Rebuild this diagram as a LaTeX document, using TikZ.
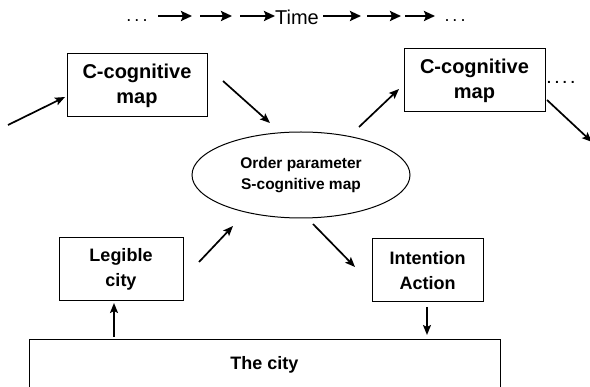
\documentclass[tikz,border=0pt]{standalone}
\usepackage{fontspec}
\setmainfont{Liberation Sans}
\usetikzlibrary{arrows.meta,shapes.geometric}
\begin{document}
\begin{tikzpicture}[x=1pt,y=-1pt,
 box/.style={draw,line width=1pt,align=center,inner sep=0pt,font=\fontsize{18}{25}\selectfont\bfseries},
 cbox/.style={box,font=\fontsize{20}{25}\selectfont\bfseries},
 arr/.style={line width=1.7pt,-{Stealth[length=10pt,width=8pt,inset=2pt]}},
 tarr/.style={line width=2.4pt,-{Stealth[length=11pt,width=10pt,inset=2pt]}},
]
\useasboundingbox (0,0) rectangle (590,387);
% top time line
\node (dl) at (137,21) {\fontsize{18}{20}\selectfont .\,.\,.};
\node (dr) at (455,21) {\fontsize{18}{20}\selectfont .\,.\,.};
\node (time) at (297,17) {\fontsize{20}{24}\selectfont Time};
\coordinate (t1s) at (158,16); \coordinate (t1e) at (192,16);
\coordinate (t2s) at (200,16); \coordinate (t2e) at (232,16);
\coordinate (t3s) at (240,16); \coordinate (t3e) at (275,16);
\coordinate (t4s) at (323,16); \coordinate (t4e) at (361,16);
\coordinate (t5s) at (367,16); \coordinate (t5e) at (401,16);
\coordinate (t6s) at (405,16); \coordinate (t6e) at (435,16);
\foreach \i in {1,...,6}{\draw[tarr] (t\i s) -- (t\i e);}
% nodes
\node[cbox,minimum width=140pt,minimum height=63pt] (cl) at (137,85.5) {C-cognitive\\map};
\node[cbox,minimum width=141pt,minimum height=63pt] (cr) at (474.5,80.5) {C-cognitive\\map};
\node[draw,ellipse,line width=1pt,inner sep=0pt,minimum width=218pt,minimum height=86pt,align=center,
      font=\fontsize{15.5}{21}\selectfont\bfseries] (op) at (301,175) {Order parameter\\S-cognitive map};
\node[box,minimum width=124pt,minimum height=63pt] (lc) at (121,269.5) {Legible\\city};
\node[box,minimum width=111pt,minimum height=63pt] (ia) at (427.5,270.5) {Intention\\Action};
\node[box,minimum width=471pt,minimum height=52pt] (city) at (264.5,366) {\raisebox{6pt}{The city}};
\node[font=\fontsize{14}{16}\selectfont\bfseries,inner sep=0pt,anchor=base west] (dots) at (547,84) {.\kern4pt.\kern4pt.\kern4pt.};
% connectors
\coordinate (a1s) at (8,125); \coordinate (a1e) at (65,97);
\coordinate (a2s) at (223,81); \coordinate (a2e) at (270,123);
\coordinate (a3s) at (359,127); \coordinate (a3e) at (399,89);
\coordinate (a4s) at (547,100); \coordinate (a4e) at (592,142);
\coordinate (a5s) at (199,262); \coordinate (a5e) at (233,226);
\coordinate (a6s) at (313,224); \coordinate (a6e) at (355,267);
\coordinate (a7s) at (114,337); \coordinate (a7e) at (114,303);
\coordinate (a8s) at (427,307); \coordinate (a8e) at (427,335);
\foreach \i in {1,...,8}{\draw[arr] (a\i s) -- (a\i e);}
\end{tikzpicture}
\end{document}
